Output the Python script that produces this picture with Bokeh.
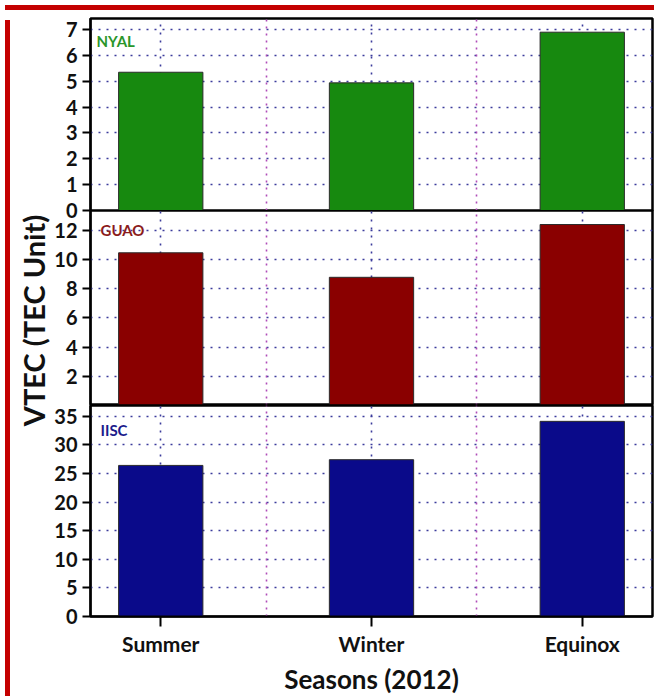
import math
from bokeh.plotting import figure
from bokeh.models import Range1d, FixedTicker, Grid, Label, Div
from bokeh.layouts import column, row
from bokeh.embed import file_html
from bokeh.resources import INLINE

# ---- data ----
seasons = ["Summer", "Winter", "Equinox"]
stations = ["NYAL", "GUAO", "IISC"]
nyal_tec = [5.35, 4.94, 6.90]
guao_tec = [10.47, 8.79, 12.41]
iisc_tec = [26.4, 27.4, 34.1]
nyal_ticks = [0, 1, 2, 3, 4, 5, 6, 7]
guao_ticks = [2, 4, 6, 8, 10, 12]
iisc_ticks = [0, 5, 10, 15, 20, 25, 30, 35]
y_max = [7.43, 13.37, 36.87]

# ---- styles ----
FONT = "Lato"
bar_colors = ["#17890f", "#8a0000", "#0a0a8a"]
label_colors = ["#2a962a", "#8b1c1c", "#1c1c8c"]
GRID_BLUE = "#3c3c9c"
GRID_MAGENTA = "#b04cb8"
RED = "#c40000"
LEFT = 38
OVER = 12

x_pos = list(range(len(seasons)))
mid_pos = [i + 0.5 for i in x_pos[:-1]]


def panel(values, ticks, ymax, color, lcolor, name, fh, top, bottom, show_x,
          lab_dx, lab_dy, margin_top):
    p = figure(frame_width=562, frame_height=fh,
               x_range=Range1d(-1 / 3, len(seasons) - 1 + 1 / 3),
               y_range=Range1d(0, ymax),
               output_backend="svg", toolbar_location=None,
               x_axis_location="below" if show_x else None,
               min_border_left=LEFT, min_border_right=5,
               min_border_top=top, min_border_bottom=bottom,
               margin=(margin_top, 0, 0, 0))
    p.border_fill_alpha = 0.0
    p.background_fill_color = "white"
    p.grid.visible = False
    p.outline_line_color = "black"
    p.outline_line_width = 2.5
    p.outline_line_alpha = 1.0

    p.add_layout(Grid(dimension=1, ticker=FixedTicker(ticks=ticks),
                      grid_line_color=GRID_BLUE, grid_line_dash="2 6",
                      grid_line_width=1.6))
    p.add_layout(Grid(dimension=0, ticker=FixedTicker(ticks=x_pos),
                      grid_line_color=GRID_BLUE, grid_line_dash="2 6",
                      grid_line_width=1.6))
    p.add_layout(Grid(dimension=0, ticker=FixedTicker(ticks=mid_pos),
                      grid_line_color=GRID_MAGENTA, grid_line_dash="2 5",
                      grid_line_width=1.6))

    p.vbar(x=x_pos, top=values, bottom=0, width=0.4,
           fill_color=color, line_color="#2b2b2b", line_width=1)

    ax = p.yaxis[0]
    ax.ticker = FixedTicker(ticks=ticks)
    ax.minor_tick_line_color = None
    ax.major_tick_in = 0
    ax.major_tick_out = 8
    ax.major_tick_line_width = 2
    ax.axis_line_width = 2
    ax.major_label_standoff = 5
    ax.major_label_text_font = FONT
    ax.major_label_text_font_style = "bold"
    ax.major_label_text_font_size = "20px"
    ax.major_label_text_color = "#111111"

    if show_x:
        xa = p.xaxis[0]
        xa.ticker = FixedTicker(ticks=x_pos)
        xa.major_label_overrides = {i: s for i, s in zip(x_pos, seasons)}
        xa.minor_tick_line_color = None
        xa.major_tick_in = 0
        xa.major_tick_out = 10
        xa.major_tick_line_width = 2
        xa.axis_line_width = 2
        xa.major_label_standoff = 4
        xa.major_label_text_font = FONT
        xa.major_label_text_font_style = "bold"
        xa.major_label_text_font_size = "21px"
        xa.major_label_text_color = "#111111"
        xa.axis_label = "Seasons (2012)"
        xa.axis_label_standoff = 4
        xa.axis_label_text_font = FONT
        xa.axis_label_text_font_style = "bold"
        xa.axis_label_text_font_size = "26px"
        xa.axis_label_text_color = "#111111"

    p.add_layout(Label(x=lab_dx, y=fh - lab_dy, x_units="screen", y_units="screen",
                       text=name, text_font=FONT, text_font_style="bold",
                       text_font_size="15px", text_color=lcolor,
                       text_baseline="middle", text_align="left"))
    return p


f1 = panel(nyal_tec, nyal_ticks, y_max[0], bar_colors[0], label_colors[0], stations[0],
           192, 3, OVER, False, 6, 22, 0)
f2 = panel(guao_tec, guao_ticks, y_max[1], bar_colors[1], label_colors[1], stations[1],
           195, 0, 0, False, 10, 19, -OVER)
f3 = panel(iisc_tec, iisc_ticks, y_max[2], bar_colors[2], label_colors[2], stations[2],
           211, OVER, 80, True, 10, 24, -OVER)

col_h = (3 + 192 + OVER) + (195 - OVER) + (OVER + 211 + 80 - OVER)

lf = figure(width=36, height=col_h, x_range=Range1d(0, 1), y_range=Range1d(0, 1),
            output_backend="svg", toolbar_location=None,
            x_axis_location=None, y_axis_location=None, min_border=0)
lf.grid.visible = False
lf.outline_line_color = None
lf.add_layout(Label(x=18, y=col_h - 305, x_units="screen", y_units="screen",
                    text="VTEC (TEC Unit)", angle=math.pi / 2,
                    text_align="center", text_baseline="middle",
                    text_font=FONT, text_font_style="bold",
                    text_font_size="29px", text_color="#111111"))

top_bar = Div(text="", width=649, height=5, styles={"background-color": RED})
left_bar = Div(text="", width=5, height=col_h, styles={"background-color": RED})

layout = column(top_bar, row(left_bar, lf, column(f1, f2, f3)))

open("out.html", "w").write(file_html(layout, INLINE))
